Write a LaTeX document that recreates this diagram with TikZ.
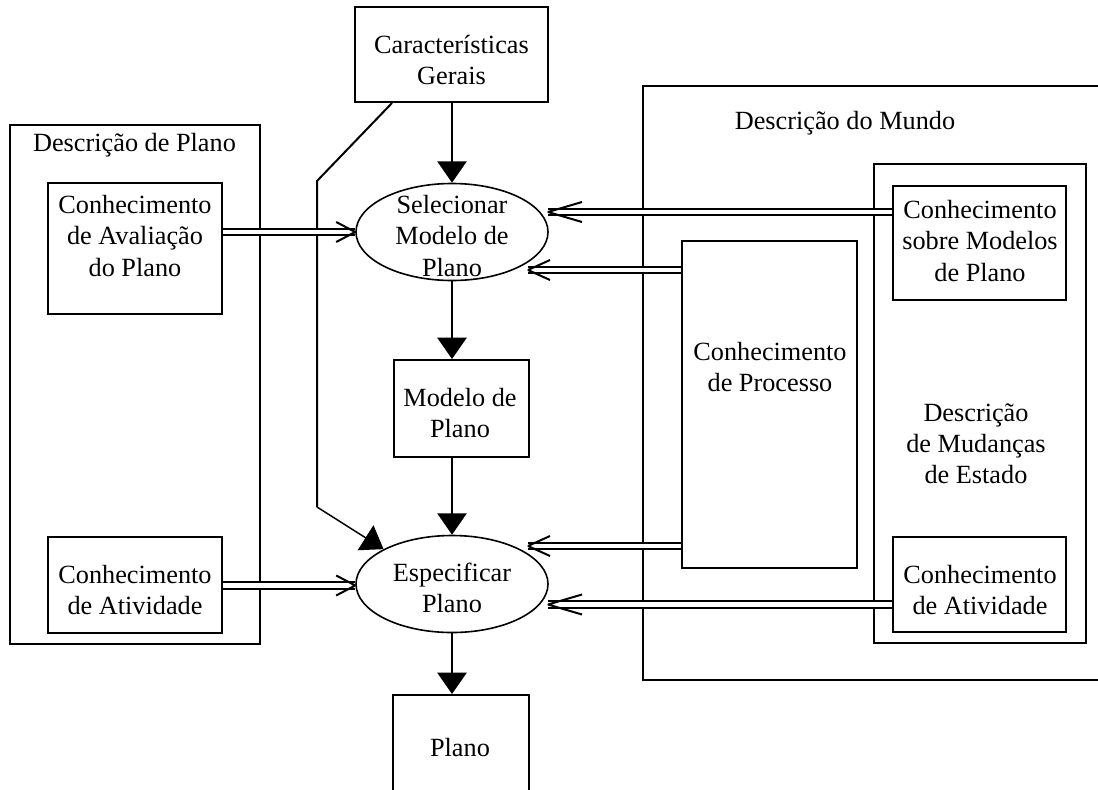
\documentclass[tikz,border=0pt]{standalone}
\usepackage{fontspec}
\setmainfont{Liberation Serif}
\usetikzlibrary{arrows.meta,fit,shapes.geometric}
\begin{document}
\begin{tikzpicture}[x=0.75pt,y=-0.75pt,
  every node/.style={font=\fontsize{19.7}{23.3}\selectfont},
  box/.style={draw,line width=1.5pt,inner sep=0pt},
  txt/.style={align=center,inner sep=0pt},
  ell/.style={draw,ellipse,line width=1.2pt,minimum width=144pt,minimum height=72.75pt,inner sep=0pt},
  arr/.style={line width=1.1pt,-{Triangle[width=22pt,length=16pt]}},
  dbl/.style={line width=1.5pt,double,double distance=3.5pt},
  barb/.style={line width=1.5pt,line join=bevel}]
\useasboundingbox (0,0) rectangle (1098,789);
\clip (0,0) rectangle (1098,789);

% containers
\node[box,fit={(10,125)(260,644)}] (descplano) {};
\node[box,fit={(643,86)(1115,680)}] (mundo) {};
\node[box,fit={(874,164)(1086,643)}] (mudancas) {};

% boxes
\node[box,fit={(355,7)(548,102)}] (carac) {};
\node[box,fit={(48,183)(222,314)}] (aval) {};
\node[box,fit={(48,537)(222,633)}] (ativ1) {};
\node[box,fit={(394,360)(529,457)}] (modelo) {};
\node[box,fit={(393,695)(529,805)}] (plano) {};
\node[box,fit={(893,186)(1066,300)}] (sobre) {};
\node[box,fit={(682,241)(857,568)}] (proc) {};
\node[box,fit={(893,537)(1066,632)}] (ativ2) {};

% ellipses
\node[ell] (sel) at (452,232) {};
\node[ell] (esp) at (452,584) {};

% texts
\node[txt] (t-carac) at (451.5,60) {Características\\Gerais};
\node[txt] (t-dp) at (134.5,145) {Descrição de Plano};
\node[txt] (t-aval) at (135,236) {Conhecimento\\de Avaliação\\do Plano};
\node[txt] (t-ativ1) at (135,590) {Conhecimento\\de Atividade};
\node[txt] (t-sel) at (452,236) {Selecionar\\Modelo de\\Plano};
\node[txt] (t-modelo) at (460,413) {Modelo de\\Plano};
\node[txt] (t-esp) at (452,588) {Especificar\\Plano};
\node[txt] (t-plano) at (460,748) {Plano};
\node[txt] (t-mundo) at (845,123) {Descrição do Mundo};
\node[txt] (t-sobre) at (980,241) {Conhecimento\\sobre Modelos\\de Plano};
\node[txt] (t-proc) at (770,367) {Conhecimento\\de Processo};
\node[txt] (t-mud) at (976,444) {Descrição\\de Mudanças\\de Estado};
\node[txt] (t-ativ2) at (980,590) {Conhecimento\\de Atividade};

% single arrows
\draw[arr] (carac.south -| sel.north) -- (sel.north);
\draw[arr] (sel.south) -- (sel.south |- modelo.north);
\draw[arr] (esp.north |- modelo.south) -- (esp.north);
\draw[arr] (esp.south) -- (esp.south |- plano.north);

% polyline from Caracteristicas
\coordinate (k1) at (317,181);
\coordinate (k2) at (317,507);
\draw[line width=1.5pt] (carac.south west) ++(38,0) -- (k1) -- (k2);
\draw[arr] (k2) -- (esp.north west);

% double arrows
\coordinate (t1) at (548,212);
\draw[dbl] (sobre.west |- t1) -- (t1);
\draw[barb] (t1) ++(34,-10) -- (t1) -- ++(34,10);

\coordinate (t2) at (528,270);
\draw[dbl] (proc.west |- t2) -- (t2);
\draw[barb] (t2) ++(22,-10) -- (t2) -- ++(22,10);

\coordinate (t3) at (528,546);
\draw[dbl] (proc.west |- t3) -- (t3);
\draw[barb] (t3) ++(22,-10) -- (t3) -- ++(22,10);

\coordinate (t4) at (548,604.5);
\draw[dbl] (ativ2.west |- t4) -- (t4);
\draw[barb] (t4) ++(34,-10) -- (t4) -- ++(34,10);

\coordinate (t5) at (sel.west);
\draw[dbl] (aval.east |- t5) -- (t5);
\draw[barb] (t5) ++(-19,-10) -- (t5) -- ++(-19,10);

\coordinate (t6) at ([yshift=-1.1pt]esp.west);
\draw[dbl] (ativ1.east |- t6) -- (t6);
\draw[barb] (t6) ++(-19,-10) -- (t6) -- ++(-19,10);
\end{tikzpicture}
\end{document}
